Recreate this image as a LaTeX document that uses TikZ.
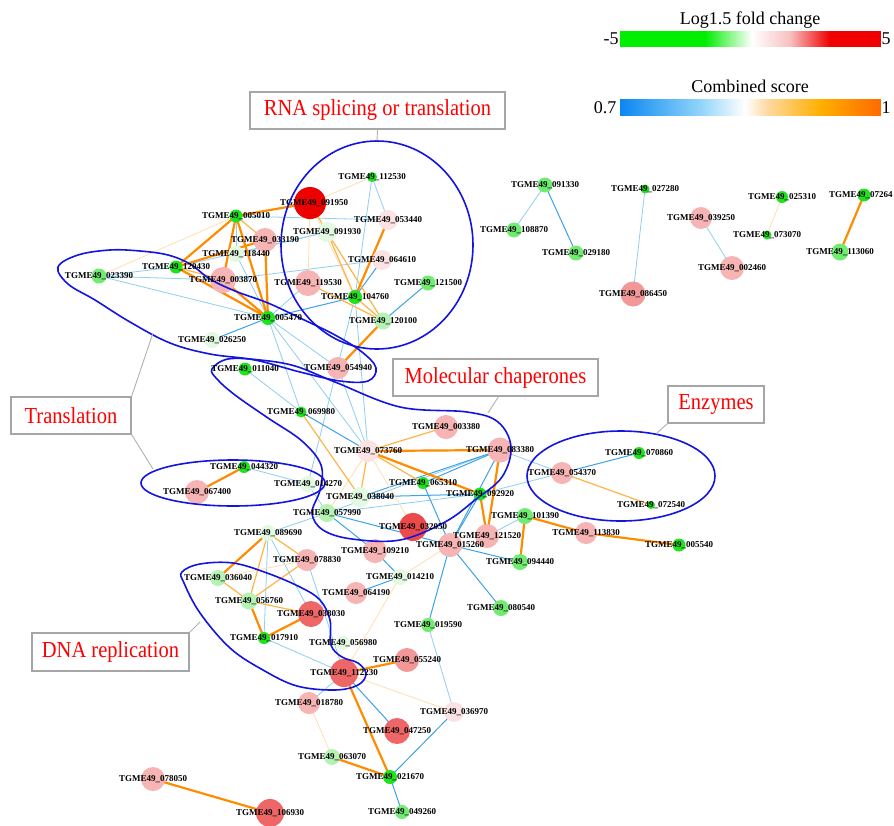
\documentclass[tikz,border=0pt]{standalone}
\usepackage{fontspec}
\setmainfont{Liberation Serif}
\usetikzlibrary{backgrounds}
\definecolor{G1}{HTML}{1EE31E}
\definecolor{G2}{HTML}{70EC70}
\definecolor{G3}{HTML}{B4F3B4}
\definecolor{G4}{HTML}{E2F9E2}
\definecolor{P0}{HTML}{FBE3E3}
\definecolor{P1}{HTML}{F6B4B4}
\definecolor{P2}{HTML}{F29898}
\definecolor{P3}{HTML}{EE6666}
\definecolor{P5}{HTML}{EC4A4A}
\definecolor{P4}{HTML}{EE0000}
\definecolor{EO}{HTML}{FF8C00}
\definecolor{EOL}{HTML}{FFB444}
\definecolor{EOP}{HTML}{FFE1B8}
\definecolor{EBL}{HTML}{8ECFF2}
\definecolor{EB}{HTML}{3BA3E6}
\definecolor{EllBlue}{HTML}{1414E0}
\definecolor{LG}{HTML}{00EE00}
\definecolor{LR}{HTML}{F00000}
\definecolor{LP}{HTML}{F8C0C0}
\definecolor{LB}{HTML}{0A86F0}
\definecolor{LLB}{HTML}{90D4FA}
\definecolor{LO1}{HTML}{FFD9A3}
\definecolor{LO2}{HTML}{FFB000}
\definecolor{LO3}{HTML}{FF6A00}
\newcommand\gradseg[6]{% x0, x1, y0, y1, colour at x0, colour at x1
  \pgfmathtruncatemacro\gsn{#2-#1}%
  \pgfmathtruncatemacro\gsm{\gsn-1}%
  \foreach \i in {0,...,\gsm}{%
    \pgfmathtruncatemacro\gsp{100-100*\i/\gsn}%
    \fill[#5!\gsp!#6] (#1+\i,#3) rectangle ({min(#1+\i+1.5,#2)},#4);}}
\begin{document}
\begin{tikzpicture}[x=1pt,y=-1pt,
  gc/.style={circle, inner sep=0pt, draw=none},
  lbl/.style={font=\bfseries\fontsize{9}{10}\selectfont, inner sep=0pt, text=black},
  eo/.style={draw=EO, line width=2.2pt},
  eol/.style={draw=EOL, line width=1.2pt},
  eop/.style={draw=EOP, line width=0.9pt},
  ebl/.style={draw=EBL, line width=0.8pt},
  eb/.style={draw=EB, line width=1pt},
  ell/.style={draw=EllBlue, line width=1.6pt},
  tbox/.style={draw=black!35, line width=1.2pt, fill=white, text=red, font=\fontsize{20.5}{24}\selectfont, inner sep=0pt},
  conn/.style={draw=black!30, line width=0.9pt},
  legtxt/.style={font=\fontsize{18}{21}\selectfont, inner sep=0pt}]
\useasboundingbox (0,0) rectangle (894,825);
% ---------- nodes (circles) ----------
\foreach \n/\x/\y/\c/\d in {
005010/236/216/G1/13, 033190/265/240/P1/24, 118440/236/254/G4/16, 120430/176/267/G1/13,
023390/99/276/G2/15, 003870/223/280/P1/26, 005470/268/318/G1/14, 026250/212/340/G4/16,
112530/372/177/G1/10, 091950/310/203/P4/32, 053440/388/220/P0/20, 091930/327/232/G4/20,
064610/382/260/P0/20, 119530/308/283/P1/26, 121500/428/283/G2/15, 104760/355/297/G1/14,
120100/383/321/G3/17,
091330/545/185/G2/15, 108870/514/230/G2/15, 029180/576/253/G2/15, 027280/645/189/G1/9,
086450/633/294/P2/25, 039250/701/218/P1/22, 002460/732/268/P1/24, 025310/782/197/G1/12,
073070/767/235/G1/9, 072640/864/195/G1/13, 113060/840/252/G2/17,
011040/245/369/G1/13, 069980/301/412/G1/11, 044320/244/467/G1/12, 067400/197/492/P1/24,
014270/308/484/G4/16, 054940/338/368/P1/22, 003380/446/427/P1/24, 073760/368/451/P0/22,
083380/500/450/P1/25, 065310/423/483/G1/12, 092920/480/494/G1/13, 038040/360/497/G4/20,
057990/327/513/G3/18, 054370/562/473/P1/22, 070860/639/453/G1/12, 072540/651/505/G1/8,
101390/525/516/G2/16, 113830/586/533/P1/22, 005540/679/545/G1/13, 032050/413/527/P5/28,
121520/487/536/P1/24, 015260/450/545/P1/24, 094440/520/562/G2/16, 080540/501/608/G2/16,
019590/428/625/G2/14, 014210/400/577/G4/16, 109210/375/551/P1/24,
089690/268/533/G4/16, 078830/307/560/P1/22, 036040/218/578/G3/16, 056760/249/601/G3/17,
064190/356/593/P1/22, 038030/311/614/P3/26, 017910/264/638/G1/12, 056980/343/643/G4/14,
055240/407/660/P2/24, 112230/344/673/P3/28, 018780/309/703/P1/22, 036970/454/712/P0/20,
047250/397/731/P3/26, 063070/332/757/G3/16, 021670/390/777/G1/14, 049260/402/812/G2/14,
106930/270/813/P3/28, 078050/153/779/P1/24}
  \node[gc, fill=\c, minimum size=\d pt] (n\n) at (\x,\y) {};
% ---------- edges ----------
\begin{scope}[on background layer]
\fill[white] (0,0) rectangle (894,825);
\foreach \a/\b in {005010/053440, 005010/118440, 120430/023390, 120430/091930, 023390/003870,
  023390/005470, 118440/005470, 118440/091930, 003870/064610, 112530/104760, 112530/053440,
  119530/005470, 005470/073760, 005470/069980, 005470/054940, 011040/069980, 073760/104760,
  073760/054940, 083380/057990, 083380/054370, 092920/057990, 092920/054370, 101390/121520,
  057990/089690, 057990/014270, 014270/044320, 104760/014270, 089690/038030, 089690/017910,
  078830/112230, 017910/112230, 112230/018780, 019590/036970, 091330/108870, 027280/086450,
  039250/002460}
  \draw[ebl] (n\a.center) -- (n\b.center);
\foreach \a/\b in {064610/104760, 104760/005470, 121500/120100, 005470/026250, 069980/073760,
  083380/065310, 083380/038040, 083380/015260, 065310/015260, 092920/038040, 092920/015260,
  054370/070860, 015260/094440, 015260/080540, 015260/019590, 015260/057990, 014210/109210,
  014210/064190, 109210/057990, 112230/047250, 036970/021670, 021670/049260, 091330/029180}
  \draw[eb] (n\a.center) -- (n\b.center);
\foreach \a/\b in {005010/023390, 091950/119530, 091950/104760, 091950/112530, 073760/057990,
  073760/032050, 015260/014210, 036040/078830, 112230/036970, 014210/112230, 018780/063070,
  025310/073070}
  \draw[eop] (n\a.center) -- (n\b.center);
\foreach \a/\b in {005010/033190, 120430/003870, 091950/091930, 091930/104760, 091930/120100,
  104760/120100, 119530/120100, 069980/038040, 073760/003380, 073760/065310, 073760/038040,
  054370/072540, 089690/056760, 089690/078830, 036040/056760, 056760/078830, 056760/038030}
  \draw[eol] (n\a.center) -- (n\b.center);
\foreach \a/\b in {005010/091950, 005010/120430, 005010/003870, 005010/005470, 120430/033190,
  120430/005470, 033190/005470, 003870/005470, 053440/104760, 120100/054940, 073760/083380,
  073760/092920, 083380/121520, 092920/121520, 101390/094440, 101390/113830, 113830/005540,
  044320/067400, 089690/036040, 056760/017910, 038030/017910, 112230/055240, 112230/021670,
  063070/021670, 078050/106930, 072640/113060}
  \draw[eo] (n\a.center) -- (n\b.center);
\end{scope}
% ---------- group outlines ----------
\draw[ell] (377,245) ellipse [x radius=96pt, y radius=104pt];
\draw[ell] (233,483) ellipse [x radius=92pt, y radius=23pt];
\draw[ell] (621,476) ellipse [x radius=94pt, y radius=45pt];
\draw[ell] plot[smooth cycle, tension=0.6] coordinates {(58,267) (78,255) (110,250) (140,251)
  (168,255) (190,264) (210,279) (235,291) (268,303) (300,318) (335,335) (362,352) (376,368)
  (368,381) (340,381) (300,372) (255,360) (210,354) (170,343) (130,322) (95,300) (68,284)};
\draw[ell] plot[smooth cycle, tension=0.6] coordinates {(212,369) (228,359) (260,360) (295,366)
  (335,382) (400,407) (467,412) (498,422) (511,447) (502,477) (475,500) (445,522) (400,540)
  (352,539) (323,530) (312,513) (320,490) (321,465) (302,441) (268,418) (235,395) (217,379)};
\draw[ell] plot[smooth cycle, tension=0.6] coordinates {(182,572) (200,564) (233,563) (267,573)
  (300,587) (320,600) (330,620) (331,645) (342,657) (358,663) (366,674) (358,685) (335,690)
  (297,686) (263,670) (230,648) (200,613) (184,583)};
% ---------- labels ----------
\foreach \n in {005010, 033190, 118440, 120430, 023390, 003870, 005470, 026250, 112530,
  053440, 091930, 064610, 119530, 121500, 104760, 120100, 091330, 108870, 029180, 027280,
  086450, 039250, 002460, 025310, 073070, 113060, 011040, 069980, 044320, 067400,
  014270, 054940, 003380, 073760, 083380, 065310, 092920, 038040, 057990, 054370, 070860,
  072540, 101390, 113830, 005540, 032050, 121520, 015260, 094440, 080540, 019590, 014210,
  109210, 089690, 078830, 036040, 056760, 064190, 038030, 017910, 056980, 055240, 112230,
  018780, 036970, 047250, 063070, 021670, 049260, 106930, 078050}
  \node[lbl] (l\n) at (n\n) {TGME49\_\n};
\node[lbl] (l091950) at ([xshift=4pt]n091950) {TGME49\_091950};
\node[lbl, anchor=west] (l072640) at (829,195) {TGME49\_07264};
% ---------- category boxes ----------
\node[tbox, minimum width=255pt, minimum height=37pt] (bRNA) at (377.5,110.5) {\scalebox{1}[1.12]{RNA splicing or translation}};
\node[tbox, minimum width=120pt, minimum height=37pt] (bTr) at (71,415.5) {\scalebox{1}[1.12]{Translation}};
\node[tbox, minimum width=205pt, minimum height=37pt] (bMC) at (495.5,377.5) {\scalebox{1}[1.12]{Molecular chaperones}};
\node[tbox, minimum width=96pt, minimum height=37pt] (bEn) at (716,404.5) {\scalebox{1}[1.12]{Enzymes}};
\node[tbox, minimum width=157pt, minimum height=38pt] (bDNA) at (110.5,652) {\scalebox{1}[1.12]{DNA replication}};
\coordinate (cRNA) at (377,141);
\coordinate (cTr1) at (153,333);
\coordinate (cTr2) at (153,469);
\coordinate (cMC) at (488,413);
\coordinate (cEn) at (657,433);
\coordinate (cDNA) at (200,622);
\draw[conn] (bRNA.south) -- (cRNA);
\draw[conn] (bTr.north east) -- (cTr1);
\draw[conn] (bTr.south east) -- (cTr2);
\draw[conn] ([xshift=3pt]bMC.south) -- (cMC);
\draw[conn] (bEn.south west) -- (cEn);
\draw[conn] (bDNA.north east) -- (cDNA);
% ---------- legend ----------
\node[legtxt] (legA) at (750,20) {Log1.5 fold change};
\fill[LG] (620,31) rectangle (705.5,47);
\gradseg{705}{752}{31}{47}{LG}{white}
\gradseg{752}{790}{31}{47}{white}{LP}
\gradseg{790}{830}{31}{47}{LP}{LR}
\fill[LR] (830,31) rectangle (881,47);
\node[legtxt] (legAm) at (611,39) {-5};
\node[legtxt] (legAp) at (886,39) {5};
\node[legtxt] (legB) at (750,86) {Combined score};
\gradseg{620}{700}{99}{116}{LB}{LLB}
\gradseg{700}{745}{99}{116}{LLB}{white}
\gradseg{745}{767}{99}{116}{white}{LO1}
\gradseg{767}{820}{99}{116}{LO1}{LO2}
\gradseg{820}{881}{99}{116}{LO2}{LO3}
\node[legtxt] (legBm) at (605,108) {0.7};
\node[legtxt] (legBp) at (886,108) {1};
\end{tikzpicture}
\end{document}
